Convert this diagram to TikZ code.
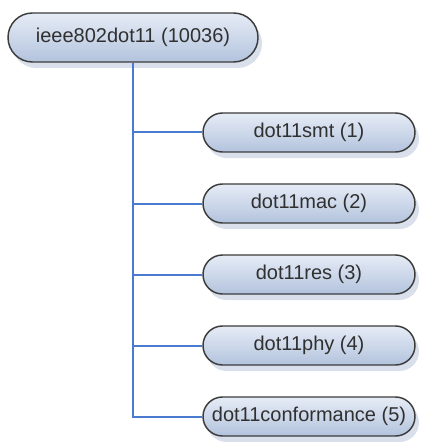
\documentclass[tikz,border=0pt]{standalone}
\usepackage{fontspec}
\setmainfont{Liberation Sans}
\usetikzlibrary{shadows}
\definecolor{boxtop}{HTML}{E6ECF6}
\definecolor{boxbot}{HTML}{B3C3DD}
\definecolor{boxline}{HTML}{3C3C3C}
\definecolor{linkblue}{HTML}{4A7BD0}
\definecolor{shadowc}{HTML}{C9D3E3}
\definecolor{txt}{HTML}{303030}
\tikzset{
  px/.style={x=0.75pt,y=-0.75pt},
  pill/.style={rectangle, draw=boxline, line width=1.1pt, top color=boxtop, bottom color=boxbot,
    inner sep=0pt, text=txt, font=\fontsize{15pt}{17pt}\selectfont,
    drop shadow={shadow xshift=3pt, shadow yshift=-4.5pt, fill=shadowc, opacity=0.7}},
  rootbox/.style={pill, minimum width=187.5pt, minimum height=36.75pt, rounded corners=18.3pt},
  childbox/.style={pill, minimum width=159pt, minimum height=29.25pt, rounded corners=14.6pt},
  link/.style={draw=linkblue, line width=1.5pt}
}
\begin{document}
\begin{tikzpicture}[px]
\useasboundingbox (0,0) rectangle (423,442);
\node[rootbox] (root) at (133,37.5) {ieee802dot11 (10036)};
\node[childbox] (c1) at (309,132.5) {dot11smt (1)};
\node[childbox] (c2) at (309,203.5) {dot11mac (2)};
\node[childbox] (c3) at (309,274.5) {dot11res (3)};
\node[childbox] (c4) at (309,345.5) {dot11phy (4)};
\node[childbox] (c5) at (309,416.5) {dot11conformance (5)};
\draw[link] (root.south) |- (c5.west);
\draw[link] (root.south |- c1.west) -- (c1.west);
\draw[link] (root.south |- c2.west) -- (c2.west);
\draw[link] (root.south |- c3.west) -- (c3.west);
\draw[link] (root.south |- c4.west) -- (c4.west);
\end{tikzpicture}
\end{document}
